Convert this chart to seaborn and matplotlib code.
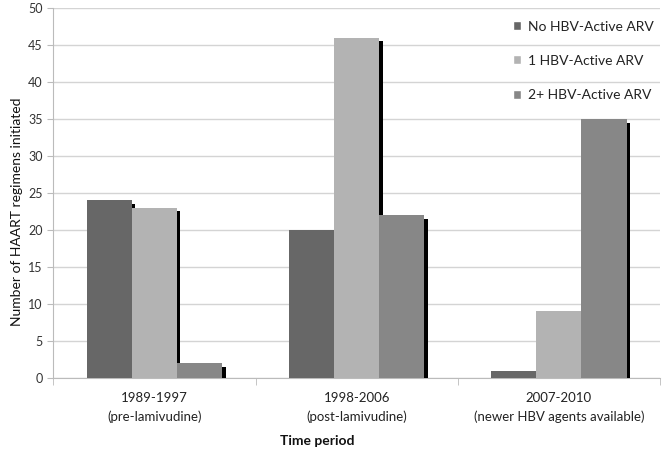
import pandas as pd
import seaborn as sns
import matplotlib.pyplot as plt
import matplotlib.patheffects as pe

periods = ['1989-1997\n(pre-lamivudine)', '1998-2006\n(post-lamivudine)',
           '2007-2010\n(newer HBV agents available)']
groups = ['No HBV-Active ARV', '1 HBV-Active ARV', '2+ HBV-Active ARV']
no_active = [24, 20, 1]
one_active = [23, 46, 9]
two_active = [2, 22, 35]
colors = ['#676767', '#b3b3b3', '#878787']

df = pd.DataFrame({
    'period': periods * 3,
    'group': [g for g in groups for _ in periods],
    'count': no_active + one_active + two_active,
})

sns.set_style('white')
plt.rcParams['font.family'] = ['Lato', 'DejaVu Sans']

fig = plt.figure(figsize=(6.66, 4.49), dpi=100)
ax = fig.add_axes([0.08, 0.158, 0.911, 0.824])

sns.barplot(data=df, x='period', y='count', hue='group', palette=colors,
            width=0.67, saturation=1, ax=ax, zorder=3)

ax.set_ylim(0, 50)
ax.set_xlim(-0.5, 2.5)
ax.set_yticks(range(0, 51, 5))
ax.yaxis.grid(True, color='#d4d4d4', linewidth=1, zorder=0)
ax.tick_params(axis='y', labelsize=9, colors='#333333', length=4, color='#bbbbbb', left=True)
ax.tick_params(axis='x', labelsize=9.5, colors='#222222', length=0, pad=10)
ax.set_xticks([0, 1, 2])
ax.set_xticklabels(periods, linespacing=1.6)
ax.set_xticks([-0.5, 0.5, 1.5, 2.5], minor=True)
ax.tick_params(axis='x', which='minor', length=5, color='#bbbbbb', bottom=True)

for side in ['top', 'right']:
    ax.spines[side].set_visible(False)
for side in ['left', 'bottom']:
    ax.spines[side].set_color('#bbbbbb')

ax.set_ylabel('Number of HAART regimens initiated', fontsize=10, color='#111111')
ax.set_xlabel('Time period', fontsize=10, fontweight='bold', color='#111111', labelpad=9)
ax.xaxis.label.set_x(0.435)
ax.yaxis.label.set_y(0.45)

leg = ax.legend(title=None, frameon=False, loc='upper right', bbox_to_anchor=(1.01, 1.0),
                fontsize=10, handlelength=0.6, handleheight=0.6, handletextpad=0.5,
                labelspacing=1.6, labelcolor='#222222')

shadow = [pe.SimplePatchShadow(offset=(2.5, -2.5), shadow_rgbFace='black', alpha=1), pe.Normal()]
for p in ax.patches:
    p.set_path_effects(shadow)
    p.set_edgecolor('none')

fig.savefig('out.png', dpi=100)
